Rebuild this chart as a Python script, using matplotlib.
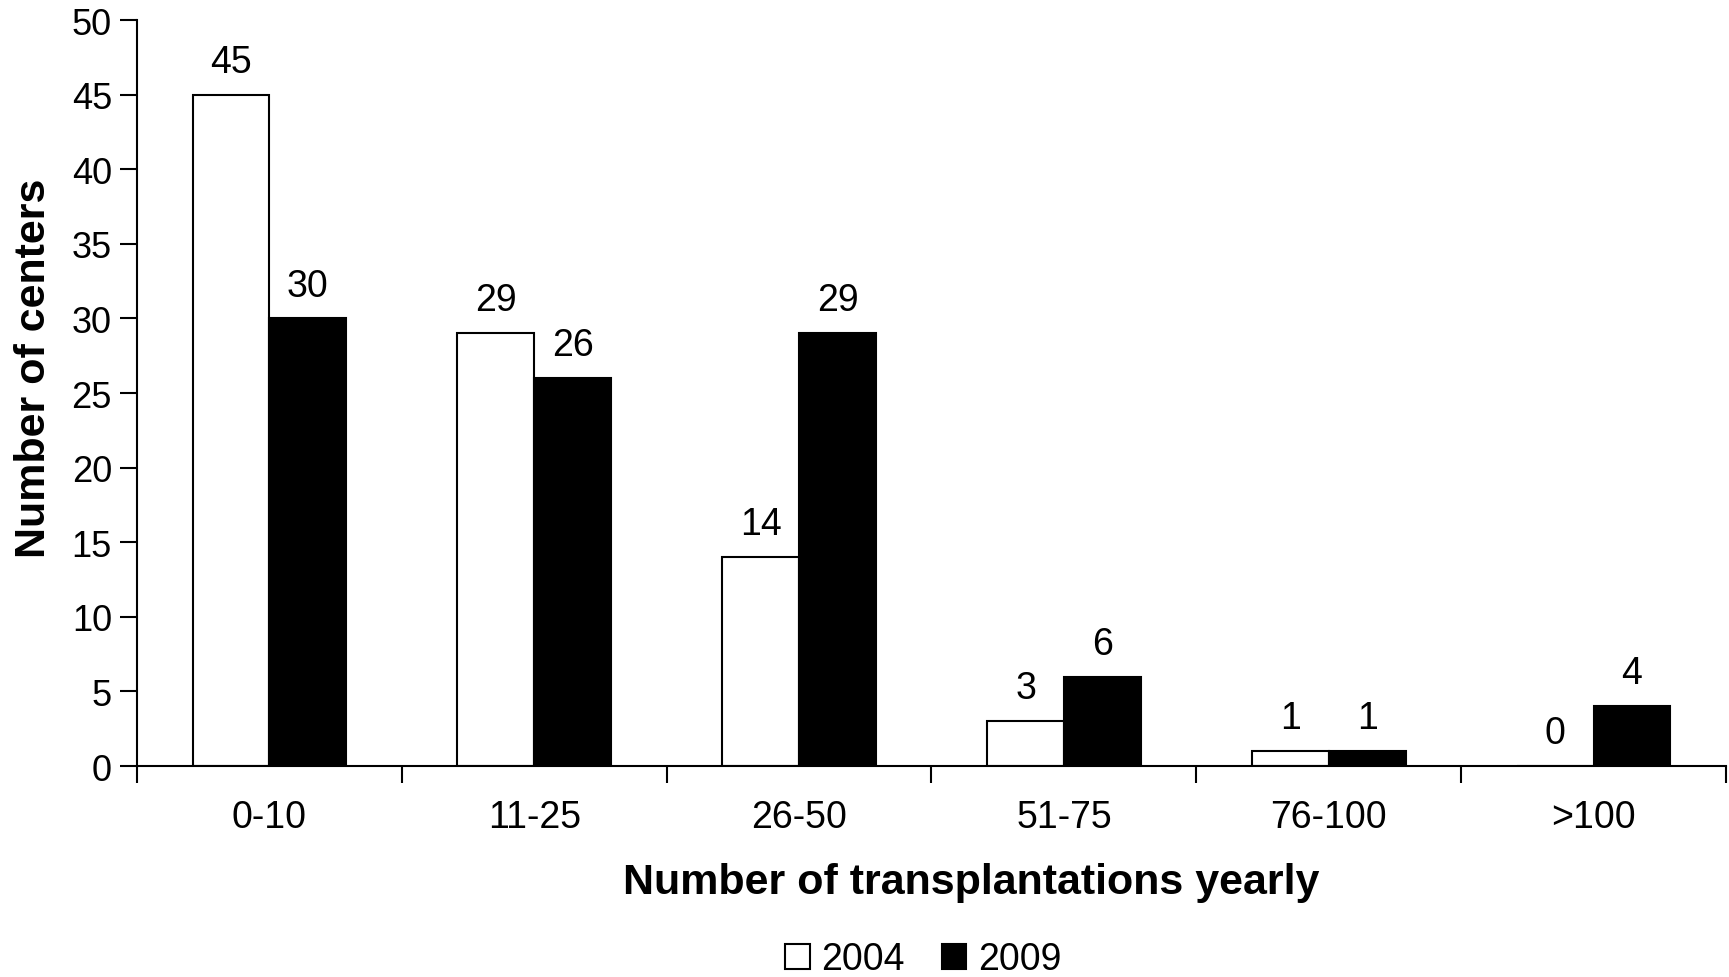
import numpy as np
import matplotlib
matplotlib.use('Agg')
import matplotlib.pyplot as plt
from matplotlib.patches import Patch

plt.rcParams['font.family'] = ['Liberation Sans', 'DejaVu Sans']

# data
categories = ['0-10', '11-25', '26-50', '51-75', '76-100', '>100']
centers_2004 = [45, 29, 14, 3, 1, 0]
centers_2009 = [30, 26, 29, 6, 1, 4]

fig = plt.figure(figsize=(17.29, 9.78), dpi=100)
ax = fig.add_axes([0.0792, 0.2157, 0.9191, 0.7628])

x = np.arange(len(categories)) + 0.5
w = 0.29
ax.bar(x - w / 2, centers_2004, w, color='white', edgecolor='black', linewidth=1.5)
ax.bar(x + w / 2, centers_2009, w, color='black', edgecolor='black', linewidth=1.5)

for i in range(len(categories)):
    ax.text(x[i] - w / 2, centers_2004[i] + 1.0, str(centers_2004[i]),
            ha='center', va='bottom', fontsize=27)
    ax.text(x[i] + w / 2, centers_2009[i] + 1.0, str(centers_2009[i]),
            ha='center', va='bottom', fontsize=27)

ax.set_xlim(0, len(categories))
ax.set_ylim(0, 50)
ax.set_yticks(range(0, 51, 5))
ax.set_xticks(range(len(categories) + 1))
ax.set_xticklabels([])
ax.set_xticks(x, minor=True)
ax.set_xticklabels(categories, minor=True, fontsize=27)
ax.tick_params(axis='x', which='minor', length=0, pad=24)
ax.tick_params(axis='x', which='major', length=12, width=1.5, direction='out')
ax.tick_params(axis='y', length=12, width=1.5, direction='out', labelsize=26, pad=6)

for s in ['top', 'right']:
    ax.spines[s].set_visible(False)
for s in ['left', 'bottom']:
    ax.spines[s].set_linewidth(1.5)

ax.set_xlabel('Number of transplantations yearly', fontsize=31, fontweight='bold')
ax.set_ylabel('Number of centers', fontsize=31, fontweight='bold')
ax.xaxis.set_label_coords(0.525, -0.128)
ax.yaxis.set_label_coords(-0.052, 0.534)

handles = [Patch(facecolor='white', edgecolor='black', linewidth=1.5, label='2004'),
           Patch(facecolor='black', edgecolor='black', linewidth=1.5, label='2009')]
fig.legend(handles=handles, loc='center', bbox_to_anchor=(0.534, 0.018), ncol=2,
           frameon=False, fontsize=27, handlelength=0.65, handleheight=0.65,
           handletextpad=0.3, columnspacing=1.0)

fig.savefig('out.png', dpi=100)
